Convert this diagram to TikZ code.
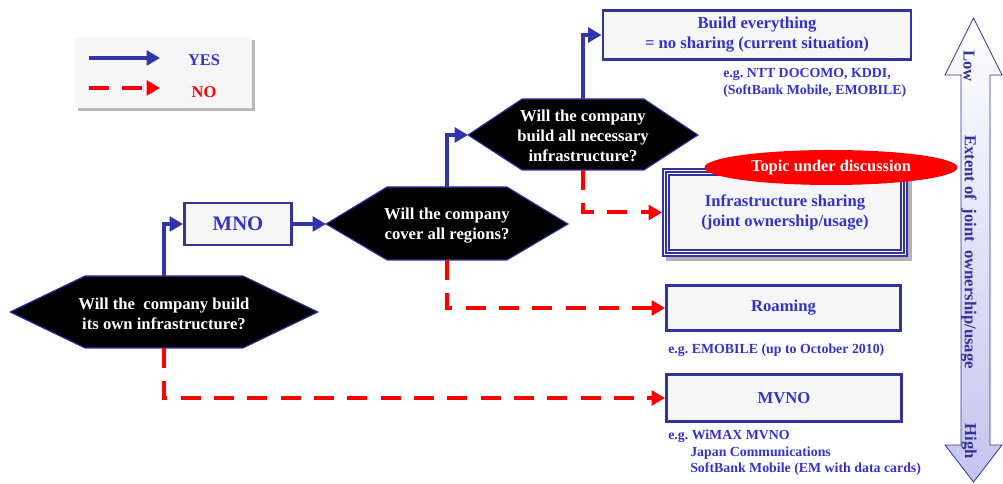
\documentclass[tikz,border=0pt]{standalone}
\usepackage{fontspec}
\setmainfont{Liberation Serif}
\usetikzlibrary{arrows.meta,shapes.geometric}
\definecolor{yesblue}{RGB}{51,51,170}
\definecolor{boxblue}{RGB}{51,51,153}
\definecolor{txtblue}{RGB}{51,51,204}
\definecolor{nored}{RGB}{255,0,0}
\definecolor{boxfill}{RGB}{246,246,246}
\definecolor{lav}{RGB}{196,196,238}
\frenchspacing
\begin{document}
\begin{tikzpicture}[x=0.75pt,y=-0.75pt,
  yes/.style={draw=yesblue,line width=3pt,-{Triangle[length=10pt,width=11pt]}},
  no/.style={draw=nored,line width=3pt,dash pattern=on 15pt off 10pt,-{Triangle[length=10pt,width=11pt]}},
  hexfill/.style={fill=black,draw=yesblue,line width=0.8pt},
  qtext/.style={text=white,font=\fontsize{12.5}{15}\selectfont\bfseries,align=center},
  outbox/.style={draw=boxblue,line width=2.2pt,fill=boxfill,text=txtblue,
    font=\fontsize{12.5}{15}\selectfont\bfseries,align=center,inner sep=0pt},
  note/.style={text=txtblue,font=\fontsize{10.4}{12.4}\selectfont\bfseries,align=left,anchor=west,inner sep=0pt},
  vtext/.style={rotate=-90,text=boxblue,font=\fontsize{12.5}{15}\selectfont\bfseries,inner sep=0pt},
]
\useasboundingbox (0,0) rectangle (1003,484);

% legend
\fill[gray!55] (78,40) rectangle (255,111);
\node[fill=boxfill,minimum width=132.75pt,minimum height=53.25pt,inner sep=0pt] (legend) at (163.5,72.5) {};
\coordinate (ya) at (89,58); \coordinate (yb) at (160,58);
\coordinate (na) at (89,88); \coordinate (nb) at (160,88);
\draw[yes] (ya) -- (yb);
\draw[no] (na) -- (nb);
\node[text=txtblue,font=\fontsize{12.3}{14}\selectfont\bfseries] (yeslbl) at (204,60) {YES};
\node[text=nored,font=\fontsize{12.3}{14}\selectfont\bfseries] (nolbl) at (204,92) {NO};

% decision hexagons
\path[hexfill] (10,312) -- (85,276) -- (243,276) -- (318,312) -- (243,348) -- (85,348) -- cycle;
\node[qtext] (q1) at (164,314) {Will the~ company build\\its own infrastructure?};
\coordinate (q1n) at (164,276); \coordinate (q1s) at (164,348);

\path[hexfill] (326,224) -- (387,187) -- (507,187) -- (568,224) -- (507,260) -- (387,260) -- cycle;
\node[qtext] (q2) at (447,226) {Will the company\\cover all regions?};
\coordinate (q2w) at (326,224); \coordinate (q2n) at (447,187); \coordinate (q2s) at (447,260);

\path[hexfill] (468,135) -- (522,99) -- (644,99) -- (698,135) -- (644,170) -- (522,170) -- cycle;
\node[qtext] (q3) at (583,136) {Will the company\\build all necessary\\infrastructure?};
\coordinate (q3w) at (468,135); \coordinate (q3n) at (583,99); \coordinate (q3s) at (583,170);

% outcome boxes
\node[outbox,minimum width=80.3pt,minimum height=31.5pt,font=\fontsize{15.5}{18}\selectfont\bfseries] (mno) at (238,224) {MNO};
\node[outbox,minimum width=231pt,minimum height=36.8pt] (build) at (757,35) {Build everything\\= no sharing (current situation)};

\fill[gray!60] (666,172) rectangle (912,261);
\node[outbox,line width=1.5pt,minimum width=183pt,minimum height=65.3pt,font=\fontsize{12.5}{14.5}\selectfont\bfseries] (share) at (785,212.5) {Infrastructure sharing\\(joint ownership/usage)};
\draw[boxblue,line width=1.1pt] ([shift={(4,4)}]share.north west) rectangle ([shift={(-4,-4)}]share.south east);
\draw[boxblue,line width=0.9pt] ([shift={(7,7)}]share.north west) rectangle ([shift={(-7,-7)}]share.south east);

\node[ellipse,fill=nored,minimum width=189.75pt,minimum height=26.25pt,inner sep=0pt,text=white,
  font=\fontsize{12.3}{14}\selectfont\bfseries] (topic) at (831,167.5) {Topic under discussion};

\node[outbox,minimum width=175.5pt,minimum height=33.8pt] (roam) at (783.5,308) {Roaming};
\node[outbox,minimum width=176.3pt,minimum height=35.3pt] (mvno) at (784,398) {MVNO};

% examples under the boxes
\node[note] (ex1) at (723,83) {e.g. NTT DOCOMO, KDDI,\\(SoftBank Mobile, EMOBILE)};
\node[note] (ex2) at (668,350) {e.g. EMOBILE (up to October 2010)};
\node[note] (ex3) at (668,453) {e.g. WiMAX MVNO\\\hspace*{16.5pt}Japan Communications\\\hspace*{16.5pt}SoftBank Mobile (EM with data cards)};

% connectors
\draw[yes] (q1n) |- (mno.west);
\draw[yes] (mno.east) -- (q2w);
\draw[yes] (q2n) |- (q3w);
\draw[yes] (q3n) |- (build.west);
\draw[no] (q3s) |- (share.west);
\draw[no] (q2s) |- (roam.west);
\draw[no] (q1s) |- (mvno.west);

% scale of joint ownership
\path[top color=white,bottom color=lav,draw=boxblue,line width=0.6pt]
  (973.5,18) -- (1002,75) -- (990,75) -- (990,445) -- (1002,445) -- (973.5,482)
  -- (945,445) -- (961,445) -- (961,75) -- (945,75) -- cycle;
\node[vtext] (low) at (969,66) {Low};
\node[vtext] (ext) at (969,252) {Extent of~ joint~ ownership/usage};
\node[vtext] (high) at (969,441) {High};
\end{tikzpicture}
\end{document}
